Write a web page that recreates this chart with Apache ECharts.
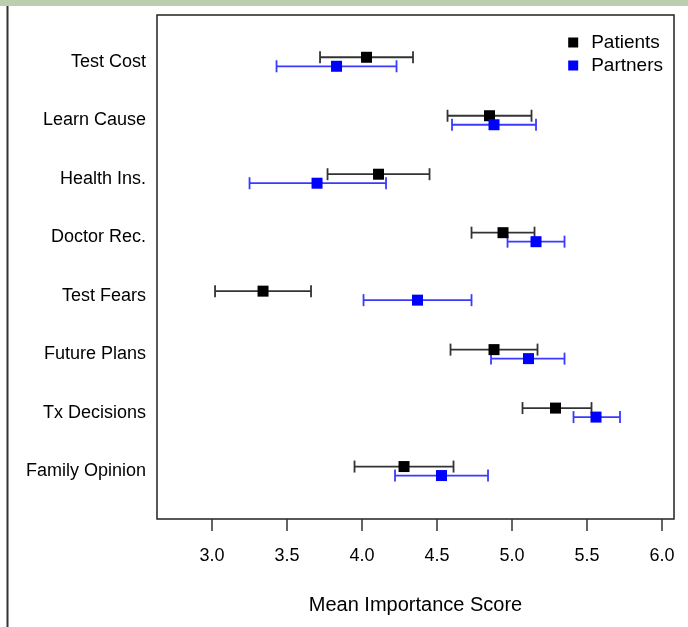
<!DOCTYPE html>
<html>
<head>
<meta charset="utf-8">
<script src="https://cdn.jsdelivr.net/npm/echarts@6/dist/echarts.min.js"></script>
<style>html,body{margin:0;padding:0;background:#fff}#c{width:688px;height:627px}</style>
</head>
<body>
<div id="c"></div>
<script>
const categories = ['Test Cost','Learn Cause','Health Ins.','Doctor Rec.','Test Fears','Future Plans','Tx Decisions','Family Opinion'];
const patientsMean = [4.03, 4.85, 4.11, 4.94, 3.34, 4.88, 5.29, 4.28];
const patientsLow  = [3.72, 4.57, 3.77, 4.73, 3.02, 4.59, 5.07, 3.95];
const patientsHigh = [4.34, 5.13, 4.45, 5.15, 3.66, 5.17, 5.53, 4.61];
const partnersMean = [3.83, 4.88, 3.70, 5.16, 4.37, 5.11, 5.56, 4.53];
const partnersLow  = [3.43, 4.60, 3.25, 4.97, 4.01, 4.86, 5.41, 4.22];
const partnersHigh = [4.23, 5.16, 4.16, 5.35, 4.73, 5.35, 5.72, 4.84];
const xTicks = [3.0, 3.5, 4.0, 4.5, 5.0, 5.5, 6.0];

const N = categories.length;
const OFF = 0.077;
const FONT = '"Liberation Sans", Arial, Helvetica, sans-serif';

function pos(i, side) { return N - i + side * OFF; }

const patPts = patientsMean.map((v, i) => [v, pos(i, 1)]);
const parPts = partnersMean.map((v, i) => [v, pos(i, -1)]);
const patErr = patientsLow.map((v, i) => [pos(i, 1), v, patientsHigh[i]]);
const parErr = partnersLow.map((v, i) => [pos(i, -1), v, partnersHigh[i]]);

function errRender(color) {
  return function (params, api) {
    const y = api.value(0);
    const a = api.coord([api.value(1), y]);
    const b = api.coord([api.value(2), y]);
    const h = 6;
    const style = { stroke: color, lineWidth: 1.8, fill: null };
    return {
      type: 'group',
      children: [
        { type: 'line', shape: { x1: a[0], y1: a[1], x2: b[0], y2: b[1] }, style: style },
        { type: 'line', shape: { x1: a[0], y1: a[1] - h, x2: a[0], y2: a[1] + h }, style: style },
        { type: 'line', shape: { x1: b[0], y1: b[1] - h, x2: b[0], y2: b[1] + h }, style: style }
      ]
    };
  };
}

const chart = echarts.init(document.getElementById('c'), null, { renderer: 'canvas' });
chart.setOption({
  backgroundColor: '#fff',
  animation: false,
  textStyle: { fontFamily: FONT },
  graphic: [
    { type: 'rect', shape: { x: 0, y: 0, width: 688, height: 6 }, style: { fill: '#b9cfad' }, z: 100 },
    { type: 'line', shape: { x1: 7.5, y1: 6, x2: 7.5, y2: 627 }, style: { stroke: '#333', lineWidth: 2 }, z: 100 }
  ],
  grid: { left: 157, top: 15, right: 14, bottom: 108, show: true, borderColor: '#222', borderWidth: 1.5, containLabel: false },
  legend: {
    data: ['Patients', 'Partners'],
    orient: 'vertical', right: 20, top: 28,
    icon: 'rect', itemWidth: 10, itemHeight: 10, itemGap: 4,
    textStyle: { fontSize: 19, color: '#000', fontFamily: FONT, padding: [0, 0, 0, 8] }
  },
  xAxis: {
    type: 'value', min: 2.633, max: 6.08,
    axisLine: { show: false },
    splitLine: { show: false },
    axisTick: { show: true, customValues: xTicks, length: 12, lineStyle: { color: '#333', width: 1.5 } },
    axisLabel: { customValues: xTicks, formatter: v => Number(v).toFixed(1), fontSize: 18, color: '#000', margin: 28, fontFamily: FONT },
    name: 'Mean Importance Score', nameLocation: 'middle', nameGap: 76,
    nameTextStyle: { fontSize: 20, color: '#000', fontFamily: FONT }
  },
  yAxis: {
    type: 'value', min: 0.18, max: 8.8,
    axisLine: { show: false },
    splitLine: { show: false },
    axisTick: { show: false },
    axisLabel: { customValues: [1, 2, 3, 4, 5, 6, 7, 8], formatter: v => categories[N - Math.round(v)], fontSize: 18, color: '#000', margin: 11, fontFamily: FONT, padding: [3, 0, 0, 0] }
  },
  series: [
    { name: 'PatientsErr', type: 'custom', renderItem: errRender('#333'), encode: { x: [1, 2], y: 0 }, data: patErr, z: 2 },
    { name: 'PartnersErr', type: 'custom', renderItem: errRender('#3a3aff'), encode: { x: [1, 2], y: 0 }, data: parErr, z: 2 },
    { name: 'Patients', type: 'scatter', symbol: 'rect', symbolSize: 11, itemStyle: { color: '#000', opacity: 1 }, data: patPts, z: 3 },
    { name: 'Partners', type: 'scatter', symbol: 'rect', symbolSize: 11, itemStyle: { color: '#0000ff', opacity: 1 }, data: parPts, z: 3 }
  ]
});
</script>
</body>
</html>
